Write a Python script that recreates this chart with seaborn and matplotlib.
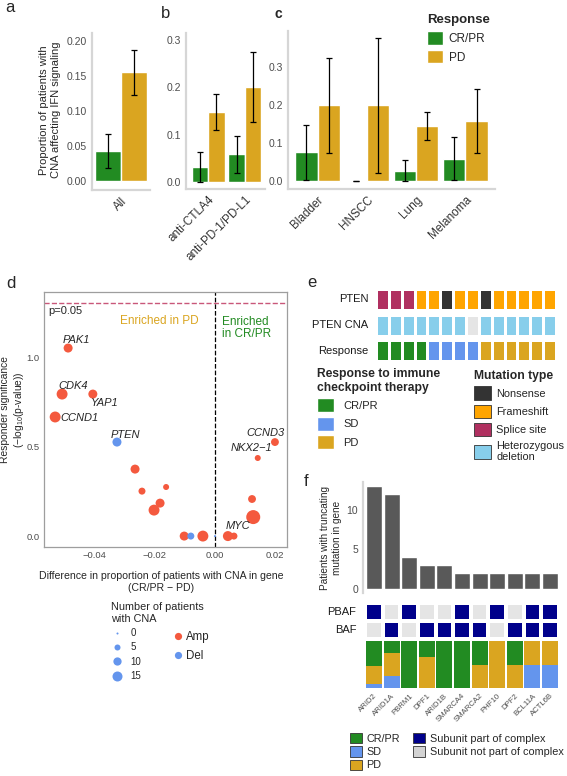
import numpy as np
import pandas as pd
import matplotlib
matplotlib.use('Agg')
import matplotlib.pyplot as plt
import seaborn as sns
from matplotlib.colors import ListedColormap
from matplotlib.patches import Patch
from matplotlib.lines import Line2D
from matplotlib.ticker import FormatStrFormatter

# ---------------- data ----------------
# a: all patients
all_cats = ['All']
all_crpr = [0.042]
all_crpr_lo = [0.018]
all_crpr_hi = [0.067]
all_pd = [0.155]
all_pd_lo = [0.122]
all_pd_hi = [0.187]

# b: by therapy
therapy_cats = ['anti-CTLA4', 'anti-PD-1/PD-L1']
therapy_crpr = [0.032, 0.058]
therapy_crpr_lo = [0.0, 0.019]
therapy_crpr_hi = [0.063, 0.097]
therapy_pd = [0.148, 0.200]
therapy_pd_lo = [0.110, 0.127]
therapy_pd_hi = [0.186, 0.274]

# c: by tumor type
tumor_cats = ['Bladder', 'HNSCC', 'Lung', 'Melanoma']
tumor_crpr = [0.077, 0.0, 0.027, 0.058]
tumor_crpr_lo = [0.002, 0.0, 0.0, 0.002]
tumor_crpr_hi = [0.148, 0.0, 0.055, 0.116]
tumor_pd = [0.200, 0.200, 0.145, 0.157]
tumor_pd_lo = [0.073, 0.020, 0.108, 0.074]
tumor_pd_hi = [0.325, 0.376, 0.182, 0.242]

# d: CNA genes
d_genes = ['PAK1', 'CDK4', 'YAP1', 'CCND1', 'PTEN', 'CCND3', 'NKX2-1', '', '', '', '',
           '', '', 'MYC', '', '', '', '', '', '']
d_diff = [-0.0487, -0.0507, -0.0405, -0.0530, -0.0325, 0.0199, 0.0142, -0.0265, -0.0242,
          -0.0162, -0.0182, -0.0202, 0.0123, 0.0127, -0.0102, -0.0080, -0.0040, 0.0,
          0.0043, 0.0063]
d_sig = [1.05, 0.793, 0.793, 0.665, 0.525, 0.525, 0.436, 0.374, 0.251, 0.274, 0.184,
         0.145, 0.207, 0.106, 0.0, 0.0, 0.0, 0.0, 0.0, 0.0]
d_n = [12, 18, 12, 18, 12, 9, 5, 12, 7, 5, 12, 18, 9, 30, 12, 7, 18, 0, 15, 7]
d_type = ['Amp', 'Amp', 'Amp', 'Amp', 'Del', 'Amp', 'Amp', 'Amp', 'Amp', 'Amp', 'Amp',
          'Amp', 'Amp', 'Amp', 'Amp', 'Del', 'Amp', 'Del', 'Amp', 'Amp']

# e: PTEN patients
pten_mut = ['Splice site', 'Splice site', 'Splice site', 'Frameshift', 'Frameshift',
            'Nonsense', 'Frameshift', 'Frameshift', 'Nonsense', 'Frameshift', 'Frameshift',
            'Frameshift', 'Frameshift', 'Frameshift']
pten_cna = ['Heterozygous deletion'] * 7 + ['None'] + ['Heterozygous deletion'] * 6
pten_resp = ['CR/PR', 'CR/PR', 'CR/PR', 'CR/PR', 'SD', 'SD', 'SD', 'SD',
             'PD', 'PD', 'PD', 'PD', 'PD', 'PD']

# f: SWI/SNF genes
f_genes = ['ARID2', 'ARID1A', 'PBRM1', 'DPF1', 'ARID1B', 'SMARCA4', 'SMARCA2', 'PHF10',
           'DPF2', 'BCL11A', 'ACTL6B']
f_crpr = [7, 3, 4, 1, 3, 2, 1, 0, 1, 0, 0]
f_pd = [5, 6, 0, 2, 0, 0, 1, 2, 1, 1, 1]
f_sd = [1, 3, 0, 0, 0, 0, 0, 0, 0, 1, 1]
f_pbaf = [1, 0, 1, 0, 0, 1, 0, 1, 0, 1, 1]
f_baf = [0, 1, 0, 1, 1, 1, 1, 0, 1, 1, 1]

# ---------------- style ----------------
sns.set_style('white')
plt.rcParams['font.family'] = ['Liberation Sans', 'DejaVu Sans']
plt.rcParams['mathtext.default'] = 'regular'

GREEN, GOLD, BLUE = '#228B22', '#DAA520', '#6495ED'
AMP = '#F4593E'
resp_pal = {'CR/PR': GREEN, 'PD': GOLD, 'SD': BLUE}
TICK_C = '#4D4D4D'

W, H = 567, 776
fig = plt.figure(figsize=(W / 100, H / 100), dpi=100)


def fx(x):
    return x / W


def fy(y):
    return 1 - y / H


def px_ax(x0, y0, x1, y1):
    return fig.add_axes([x0 / W, 1 - y1 / H, (x1 - x0) / W, (y1 - y0) / H])


def style_axes(ax):
    for s in ['top', 'right']:
        ax.spines[s].set_visible(False)
    for s in ['left', 'bottom']:
        ax.spines[s].set_color('#D6D6D6')
        ax.spines[s].set_linewidth(1.6)
    ax.tick_params(length=2, width=0.6, color='#333333', labelsize=7.5,
                   labelcolor=TICK_C, pad=1.5)


def bar_panel(ax, cats, g, g_lo, g_hi, p, p_lo, p_hi, xlim, ylim, yticks, fmt):
    df = pd.DataFrame({'cat': cats + cats,
                       'resp': ['CR/PR'] * len(cats) + ['PD'] * len(cats),
                       'val': g + p, 'lo': g_lo + p_lo, 'hi': g_hi + p_hi})
    sns.barplot(data=df, x='cat', y='val', hue='resp', hue_order=['CR/PR', 'PD'],
                palette=resp_pal, width=0.9, saturation=1, errorbar=None,
                legend=False, ax=ax)
    for cont, lvl in zip(ax.containers, ['CR/PR', 'PD']):
        sub = df[df['resp'] == lvl]
        for bar, lo, hi in zip(cont, sub['lo'], sub['hi']):
            xc = bar.get_x() + bar.get_width() / 2
            ax.errorbar(xc, (lo + hi) / 2, yerr=(hi - lo) / 2, fmt='none',
                        ecolor='black', elinewidth=0.9, capsize=2, capthick=0.9)
    ax.set_xlim(*xlim)
    ax.set_ylim(*ylim)
    ax.set_yticks(yticks)
    ax.yaxis.set_major_formatter(FormatStrFormatter(fmt))
    ax.set_xlabel('')
    ax.set_ylabel('')
    style_axes(ax)
    ax.set_xticks(range(len(cats)))
    ax.set_xticklabels(cats, rotation=45, ha='right', rotation_mode='anchor',
                       fontsize=8.5, color='#333333')


# ---------------- panel a ----------------
ax_a = px_ax(92, 33, 150, 190)
bar_panel(ax_a, all_cats, all_crpr, all_crpr_lo, all_crpr_hi, all_pd, all_pd_lo,
          all_pd_hi, (-0.5, 0.5), (-0.013, 0.211), [0, 0.05, 0.1, 0.15, 0.2], '%.2f')
fig.text(fx(50), fy(110), 'Proportion of patients with\nCNA affecting IFN signaling',
         rotation=90, ha='center', va='center', fontsize=8)
fig.text(fx(10), fy(8), 'a', fontsize=12, ha='center', va='center')

# ---------------- panel b ----------------
ax_b = px_ax(186, 33, 265, 189)
bar_panel(ax_b, therapy_cats, therapy_crpr, therapy_crpr_lo, therapy_crpr_hi,
          therapy_pd, therapy_pd_lo, therapy_pd_hi, (-0.6, 1.55), (-0.015, 0.315),
          [0, 0.1, 0.2, 0.3], '%.1f')
fig.text(fx(166), fy(13), 'b', fontsize=12, ha='center', va='center')

# ---------------- panel c ----------------
ax_c = px_ax(288, 31, 495, 189)
bar_panel(ax_c, tumor_cats, tumor_crpr, tumor_crpr_lo, tumor_crpr_hi, tumor_pd,
          tumor_pd_lo, tumor_pd_hi, (-0.6, 3.6), (-0.021, 0.395),
          [0, 0.1, 0.2, 0.3], '%.1f')
fig.text(fx(278), fy(14), 'c', fontsize=10, fontweight='bold', ha='center', va='center')
fig.legend([Patch(facecolor=GREEN), Patch(facecolor=GOLD)], ['CR/PR', 'PD'],
           title='Response', loc='upper left', bbox_to_anchor=(fx(427), fy(14)),
           frameon=False, fontsize=8.5, title_fontproperties={'weight': 'bold', 'size': 9.5},
           alignment='left', handlelength=1.35, handleheight=1.35, labelspacing=0.45,
           handletextpad=0.5, borderpad=0, borderaxespad=0)

# ---------------- panel d ----------------
ax_d = px_ax(44, 292, 287, 547)
df_d = pd.DataFrame({'gene': d_genes, 'diff': d_diff, 'sig': d_sig, 'n': d_n,
                     'cna': d_type})
sns.scatterplot(data=df_d, x='diff', y='sig', hue='cna',
                palette={'Amp': AMP, 'Del': BLUE}, size='n', sizes=(2.1, 101.7),
                size_norm=(0, 30), linewidth=0, legend=False, ax=ax_d, zorder=3)
ax_d.axhline(-np.log10(0.05), ls='--', color='#C9577A', lw=1)
ax_d.axvline(0, ls='--', color='black', lw=0.9)
ax_d.set_xlim(-0.0567, 0.0239)
ax_d.set_ylim(-0.061, 1.363)
ax_d.set_xticks([-0.04, -0.02, 0.0, 0.02])
ax_d.set_xticklabels(['\u22120.04', '\u22120.02', '0.00', '0.02'])
ax_d.set_yticks([0, 0.5, 1.0])
ax_d.set_yticklabels(['0.0', '0.5', '1.0'])
ax_d.set_xlabel('')
ax_d.set_ylabel('')
for s in ax_d.spines.values():
    s.set_color('#9E9E9E')
    s.set_linewidth(0.9)
ax_d.tick_params(length=2, width=0.6, color='#333333', labelsize=6.8, labelcolor=TICK_C,
                 pad=1.2)

label_pos = {'PAK1': (-5, -8, 'left'), 'CDK4': (-4, -8, 'left'),
             'YAP1': (-2, 9, 'left'), 'CCND1': (5, 1, 'left'),
             'PTEN': (-6, -7, 'left'), 'CCND3': (10, -9, 'right'),
             'NKX2-1': (15, -10, 'right'), 'MYC': (-3, 9, 'right')}
for _, r in df_d[df_d['gene'] != ''].iterrows():
    dx, dy, ha = label_pos[r['gene']]
    ax_d.annotate(r['gene'].replace('-', '\u2212'), (r['diff'], r['sig']),
                  xytext=(dx * 0.72, -dy * 0.72), textcoords='offset points',
                  ha=ha, va='center', fontsize=8, style='italic')

ax_d.text(-0.0554, 1.255, 'p=0.05', fontsize=8, ha='left', va='center')
ax_d.text(-0.0186, 1.20, 'Enriched in PD', color=GOLD, fontsize=8.5, ha='center',
          va='center')
ax_d.text(0.0023, 1.162, 'Enriched\nin CR/PR', color=GREEN, fontsize=8.5, ha='left',
          va='center', linespacing=1.1)
fig.text(fx(161), fy(582), 'Difference in proportion of patients with CNA in gene\n'
         '(CR/PR \u2212 PD)', ha='center', va='center', fontsize=7.6, linespacing=1.2)
fig.text(fx(13), fy(410), 'Responder significance\n(\u2212log$_{10}$(p-value))',
         rotation=90, ha='center', va='center', fontsize=7.4, linespacing=1.15)
fig.text(fx(11), fy(284), 'd', fontsize=12, ha='center', va='center')

size_levels = [0, 5, 10, 15]
size_handles = [Line2D([], [], marker='o', ls='', color=BLUE, markeredgewidth=0,
                       markersize=np.sqrt(2.1 + (101.7 - 2.1) * v / 30))
                for v in size_levels]
fig.legend(size_handles, [str(v) for v in size_levels],
           title='Number of patients\nwith CNA', loc='upper left',
           bbox_to_anchor=(fx(111), fy(602)), frameon=False, fontsize=7,
           title_fontsize=7.8, alignment='left', handlelength=1.2, handletextpad=0.8,
           labelspacing=0.45, borderpad=0, borderaxespad=0)
type_handles = [Line2D([], [], marker='o', ls='', color=c, markeredgewidth=0,
                       markersize=5.2) for c in [AMP, BLUE]]
fig.legend(type_handles, ['Amp', 'Del'], loc='upper left',
           bbox_to_anchor=(fx(173), fy(631)), frameon=False, fontsize=8.3,
           handlelength=0.8, handletextpad=0.3, labelspacing=0.65, borderpad=0,
           borderaxespad=0)

# ---------------- panel e ----------------
tile_cats = ['Splice site', 'Frameshift', 'Nonsense', 'Heterozygous deletion', 'None',
             'CR/PR', 'SD', 'PD']
tile_cols = ['#B03060', '#FFA500', '#333333', '#87CEEB', '#E5E5E5', GREEN, BLUE, GOLD]
tile_cmap = ListedColormap(tile_cols)
code = {c: i for i, c in enumerate(tile_cats)}
rows_e = [('PTEN', pten_mut, 289), ('PTEN CNA', pten_cna, 315), ('Response', pten_resp, 340)]
for name, vals, y0 in rows_e:
    ax = px_ax(376, y0, 556, y0 + 21)
    sns.heatmap(np.array([[code[v] for v in vals]]), cmap=tile_cmap, vmin=-0.5,
                vmax=len(tile_cats) - 0.5, cbar=False, linewidths=1.0, linecolor='white',
                xticklabels=False, yticklabels=[name], ax=ax)
    ax.tick_params(left=False, bottom=False, pad=2)
    ax.set_yticklabels([name], rotation=0, fontsize=8, color='#1A1A1A')
fig.text(fx(312), fy(282), 'e', fontsize=12, ha='center', va='center')

fig.legend([Patch(facecolor=c) for c in [GREEN, BLUE, GOLD]], ['CR/PR', 'SD', 'PD'],
           title='Response to immune\ncheckpoint therapy', loc='upper left',
           bbox_to_anchor=(fx(317), fy(368)), frameon=False, fontsize=8,
           title_fontproperties={'weight': 'bold', 'size': 8.7}, alignment='left',
           handlelength=1.55, handleheight=1.55, labelspacing=0.4, handletextpad=0.8,
           borderpad=0, borderaxespad=0)
fig.legend([Patch(facecolor=c, edgecolor='#333333', linewidth=0.6)
            for c in ['#333333', '#FFA500', '#B03060', '#87CEEB']],
           ['Nonsense', 'Frameshift', 'Splice site', 'Heterozygous\ndeletion'],
           title='Mutation type', loc='upper left', bbox_to_anchor=(fx(474), fy(370)),
           frameon=False, fontsize=7.9, title_fontproperties={'weight': 'bold', 'size': 8.7},
           alignment='left', handlelength=1.55, handleheight=1.55, labelspacing=0.4,
           handletextpad=0.5, borderpad=0, borderaxespad=0)

# ---------------- panel f ----------------
df_f = pd.DataFrame({'gene': f_genes, 'CR/PR': f_crpr, 'PD': f_pd, 'SD': f_sd})
df_f['total'] = df_f[['CR/PR', 'PD', 'SD']].sum(axis=1)
f_xlim = (-0.625, 10.625)

ax_f1 = px_ax(363, 482, 561, 593)
sns.barplot(data=df_f, x='gene', y='total', color='#595959', saturation=1, width=0.9,
            ax=ax_f1)
ax_f1.set_xlim(*f_xlim)
ax_f1.set_ylim(-0.5, 13.5)
ax_f1.set_yticks([0, 5, 10])
ax_f1.set_xticklabels([])
ax_f1.set_xlabel('')
ax_f1.set_ylabel('')
style_axes(ax_f1)
ax_f1.spines['bottom'].set_visible(False)
fig.text(fx(331), fy(538), 'Patients with truncating\nmutation in gene', rotation=90,
         ha='center', va='center', fontsize=7.2, linespacing=1.15)
fig.text(fx(306), fy(481), 'f', fontsize=12, ha='center', va='center')

ax_f2 = px_ax(365.2, 603, 558.8, 639)
sns.heatmap(np.array([f_pbaf, f_baf]), cmap=ListedColormap(['#E5E5E5', '#00008B']),
            vmin=0, vmax=1, cbar=False, linewidths=1.6, linecolor='white',
            xticklabels=False, yticklabels=['PBAF', 'BAF'], ax=ax_f2)
ax_f2.tick_params(left=False, bottom=False, pad=3)
ax_f2.set_yticklabels(['PBAF', 'BAF'], rotation=0, fontsize=8, color='#1A1A1A')

long_f = df_f.melt(id_vars='gene', value_vars=['CR/PR', 'PD', 'SD'],
                   var_name='resp', value_name='count')
ax_f3 = px_ax(363, 641, 561, 688)
sns.histplot(data=long_f, x='gene', hue='resp', hue_order=['CR/PR', 'PD', 'SD'],
             weights='count', multiple='fill', discrete=True, shrink=0.9,
             palette=resp_pal, alpha=1, linewidth=0, legend=False, ax=ax_f3)
ax_f3.set_xlim(*f_xlim)
ax_f3.set_ylim(0, 1)
ax_f3.set_yticks([])
ax_f3.set_xlabel('')
ax_f3.set_ylabel('')
for s in ax_f3.spines.values():
    s.set_visible(False)
ax_f3.set_xticks(range(len(f_genes)))
ax_f3.set_xticklabels(f_genes, rotation=45, ha='right', rotation_mode='anchor',
                      fontsize=5.6, color=TICK_C)
ax_f3.tick_params(length=0, pad=3)

fig.legend([Patch(facecolor=c, edgecolor='#333333', linewidth=0.6)
            for c in [GREEN, BLUE, GOLD]], ['CR/PR', 'SD', 'PD'], loc='upper left',
           bbox_to_anchor=(fx(350), fy(733)), frameon=False, fontsize=7.8,
           handlelength=1.1, handleheight=1.1, labelspacing=0.22, handletextpad=0.4,
           borderpad=0, borderaxespad=0)
fig.legend([Patch(facecolor=c, edgecolor='#333333', linewidth=0.6)
            for c in ['#00008B', '#D3D3D3']],
           ['Subunit part of complex', 'Subunit not part of complex'], loc='upper left',
           bbox_to_anchor=(fx(413), fy(733)), frameon=False, fontsize=7.8,
           handlelength=1.1, handleheight=1.1, labelspacing=0.22, handletextpad=0.5,
           borderpad=0, borderaxespad=0)

fig.savefig('out.png', dpi=100)
